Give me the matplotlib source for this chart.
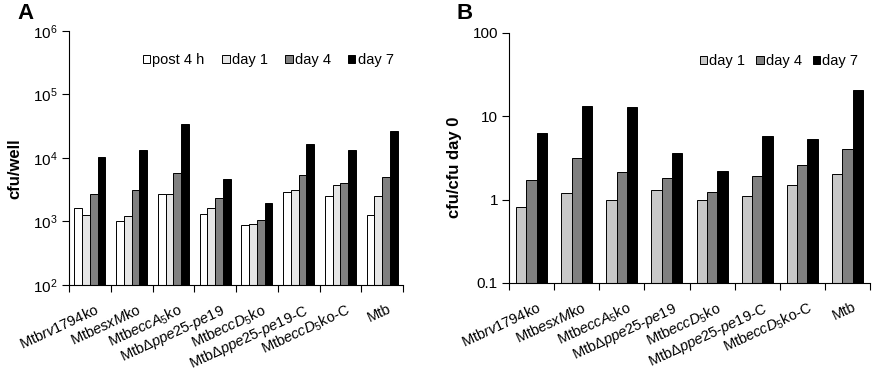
import matplotlib
matplotlib.use("Agg")
import matplotlib.pyplot as plt
import numpy as np
from matplotlib.transforms import blended_transform_factory, ScaledTranslation
from matplotlib.patches import Patch
from matplotlib.ticker import (LogFormatterMathtext, FixedLocator, NullLocator,
                               NullFormatter, FuncFormatter)

plt.rcParams['font.family'] = ['Liberation Sans', 'DejaVu Sans']
plt.rcParams['mathtext.fontset'] = 'custom'
plt.rcParams['mathtext.rm'] = 'Liberation Sans'
plt.rcParams['mathtext.it'] = 'Liberation Sans:italic'
plt.rcParams['mathtext.bf'] = 'Liberation Sans:bold'
plt.rcParams['mathtext.sf'] = 'Liberation Sans'

strains = [
    r"Mtb$\it{rv1794}$ko",
    r"Mtb$\it{esxM}$ko",
    r"Mtb$\it{eccA}_{5}$ko",
    r"Mtb$\it{\Delta ppe25}$-$\it{pe19}$",
    r"Mtb$\it{eccD}_{5}$ko",
    r"Mtb$\it{\Delta ppe25}$-$\it{pe19}$-C",
    r"Mtb$\it{eccD}_{5}$ko-C",
    r"Mtb",
]

# Panel A: cfu/well
a_post4h = [1640, 1000, 2720, 1290, 865, 2890, 2530, 1260]
a_day1 = [1260, 1210, 2720, 1660, 908, 3140, 3810, 2560]
a_day4 = [2720, 3140, 5750, 2320, 1060, 5350, 4040, 5090]
a_day7 = [10200, 13400, 34200, 4680, 1960, 16400, 13500, 26200]

# Panel B: cfu / cfu day 0
b_day1 = [0.82, 1.21, 1.0, 1.32, 1.0, 1.11, 1.52, 2.03]
b_day4 = [1.72, 3.12, 2.12, 1.82, 1.22, 1.90, 2.64, 4.04]
b_day7 = [6.3, 13.3, 12.8, 3.65, 2.22, 5.82, 5.36, 20.8]

series_a = ["post 4 h", "day 1", "day 4", "day 7"]
series_b = ["day 1", "day 4", "day 7"]

colors_a = ["#ffffff", "#e6e6e6", "#808080", "#000000"]
colors_b = ["#c8c8c8", "#808080", "#000000"]

W, H = 875, 371
fig = plt.figure(figsize=(W / 100, H / 100), dpi=100)

def px_axes(l, t, r, b):
    return fig.add_axes([l / W, 1 - b / H, (r - l) / W, (b - t) / H])

axA = px_axes(69, 31, 403, 285)
axB = px_axes(509, 33, 870, 283)

def draw(ax, data, colors, names, width, ylim, yticks, fmt):
    n = len(strains)
    x = np.arange(n)
    k = len(data)
    base = ylim[0]
    for j, (vals, c, nm) in enumerate(zip(data, colors, names)):
        off = (j - (k - 1) / 2) * width
        heights = np.asarray(vals, dtype=float) - base
        ax.bar(x + off, heights, width=width, color=c, edgecolor="black",
               linewidth=0.7, label=nm, bottom=base, zorder=2)
    ax.set_yscale("log")
    ax.set_ylim(*ylim)
    ax.set_xlim(-0.5, n - 0.5)
    ax.yaxis.set_major_locator(FixedLocator(yticks))
    ax.yaxis.set_minor_locator(NullLocator())
    ax.yaxis.set_major_formatter(fmt)
    ax.yaxis.set_minor_formatter(NullFormatter())
    ax.set_xticks(np.arange(n + 1) - 0.5)
    ax.set_xticklabels([])
    ax.tick_params(axis="both", direction="out", length=5, width=0.8,
                   color="black", labelsize=11, pad=3)
    for s in ["top", "right"]:
        ax.spines[s].set_visible(False)
    for s in ["left", "bottom"]:
        ax.spines[s].set_linewidth(0.8)
    trans = blended_transform_factory(ax.transData, ax.transAxes) + \
        ScaledTranslation(5 / 100, -17 / 100, fig.dpi_scale_trans)
    for i, lab in enumerate(strains):
        ax.text(i, 0, lab, transform=trans, rotation=25, ha="right", va="top",
                rotation_mode="anchor", fontsize=10.5)

draw(axA, [a_post4h, a_day1, a_day4, a_day7], colors_a, series_a, 0.187,
     (1e2, 1e6), [1e2, 1e3, 1e4, 1e5, 1e6], LogFormatterMathtext())

draw(axB, [b_day1, b_day4, b_day7], colors_b, series_b, 0.229,
     (0.1, 100), [0.1, 1, 10, 100], FuncFormatter(lambda v, p: f"{v:g}"))

# legends
def make_legend(ax, colors, names, left_px, cy_px, colsp):
    handles = [Patch(facecolor=c, edgecolor="black", linewidth=0.7) for c in colors]
    ax.legend(handles, names, loc="center left",
              bbox_to_anchor=(left_px / W, 1 - cy_px / H),
              bbox_transform=fig.transFigure, ncol=len(names), frameon=False,
              fontsize=10.5, handlelength=0.5, handleheight=0.5,
              handletextpad=0.15, columnspacing=colsp, borderpad=0, borderaxespad=0)

make_legend(axA, colors_a, series_a, 143, 60, 1.2)
make_legend(axB, colors_b, series_b, 700, 61, 0.75)

# y labels
fig.text(15 / W, 1 - 169 / H, "cfu/well", rotation=90, ha="center", va="center",
         fontsize=12, fontweight="bold")
fig.text(455 / W, 1 - 167 / H, "cfu/cfu day 0", rotation=90, ha="center", va="center",
         fontsize=12, fontweight="bold")

# panel letters
fig.text(17 / W, 1 - 3 / H, "A", ha="left", va="top", fontsize=16, fontweight="bold")
fig.text(457 / W, 1 - 3 / H, "B", ha="left", va="top", fontsize=16, fontweight="bold")

fig.savefig("out.png", dpi=100)
